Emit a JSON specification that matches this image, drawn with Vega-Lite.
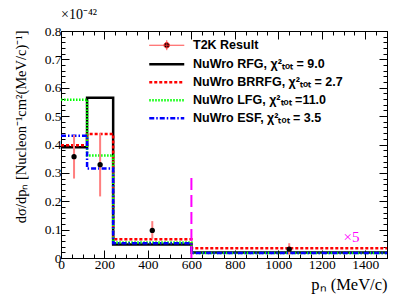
{
  "$schema": "https://vega.github.io/schema/vega-lite/v6.json",
  "width": 326,
  "height": 227,
  "autosize": "none",
  "padding": {"left": 61, "top": 31, "right": 20, "bottom": 47},
  "background": "white",
  "title": {"text": "×10⁻⁴²", "anchor": "start", "frame": "group", "font": "Liberation Serif", "fontSize": 14, "fontWeight": "normal", "offset": 2, "color": "black"},
  "config": {
    "view": {"stroke": "black", "strokeWidth": 1},
    "axis": {"grid": false, "domainColor": "black", "domainWidth": 1, "tickColor": "black", "tickWidth": 1, "labelColor": "black", "labelFont": "Liberation Serif", "labelFontSize": 13.5, "titleColor": "black", "titleFont": "Liberation Serif", "titleFontWeight": "normal", "labelFlush": false, "labelOverlap": false}
  },
  "datasets": {
    "hist": [
      {"model": "NuWro RFG", "pN": 0, "xsec": 0.39},
      {"model": "NuWro RFG", "pN": 120, "xsec": 0.565},
      {"model": "NuWro RFG", "pN": 240, "xsec": 0.048},
      {"model": "NuWro RFG", "pN": 600, "xsec": 0.019},
      {"model": "NuWro RFG", "pN": 1500, "xsec": 0.019},
      {"model": "NuWro BRRFG", "pN": 0, "xsec": 0.397},
      {"model": "NuWro BRRFG", "pN": 120, "xsec": 0.437},
      {"model": "NuWro BRRFG", "pN": 240, "xsec": 0.066},
      {"model": "NuWro BRRFG", "pN": 600, "xsec": 0.034},
      {"model": "NuWro BRRFG", "pN": 1500, "xsec": 0.034},
      {"model": "NuWro LFG", "pN": 0, "xsec": 0.558},
      {"model": "NuWro LFG", "pN": 120, "xsec": 0.361},
      {"model": "NuWro LFG", "pN": 240, "xsec": 0.055},
      {"model": "NuWro LFG", "pN": 600, "xsec": 0.018},
      {"model": "NuWro LFG", "pN": 1500, "xsec": 0.018},
      {"model": "NuWro ESF", "pN": 0, "xsec": 0.431},
      {"model": "NuWro ESF", "pN": 120, "xsec": 0.315},
      {"model": "NuWro ESF", "pN": 240, "xsec": 0.052},
      {"model": "NuWro ESF", "pN": 600, "xsec": 0.018},
      {"model": "NuWro ESF", "pN": 1500, "xsec": 0.018}
    ],
    "t2k": [
      {"pN": 60, "xsec": 0.357, "lo": 0.28, "hi": 0.434},
      {"pN": 180, "xsec": 0.329, "lo": 0.217, "hi": 0.44},
      {"pN": 420, "xsec": 0.097, "lo": 0.068, "hi": 0.13},
      {"pN": 1050, "xsec": 0.031, "lo": 0.012, "hi": 0.052}
    ]
  },
  "layer": [
    {
      "data": {"name": "hist"},
      "mark": {"type": "line", "interpolate": "step-after", "strokeWidth": 2.5},
      "encoding": {
        "x": {"field": "pN", "type": "quantitative", "scale": {"domain": [0, 1500], "nice": false, "zero": true},
          "axis": {"orient": "bottom", "values": [0,50,100,150,200,250,300,350,400,450,500,550,600,650,700,750,800,850,900,950,1000,1050,1100,1150,1200,1250,1300,1350,1400,1450,1500],
            "format": "d",
            "tickSize": {"condition": {"test": "datum.value % 200 === 0", "value": -8}, "value": -4},
            "labelExpr": "datum.value % 200 === 0 ? datum.label : ''",
            "labelPadding": 7,
            "title": "pₙ (MeV/c)", "titleFontSize": 16.5, "titleAnchor": "end", "titleAlign": "right", "titlePadding": 2}},
        "y": {"field": "xsec", "type": "quantitative", "scale": {"domain": [0, 0.8], "nice": false},
          "axis": {"orient": "left", "values": [0,0.02,0.04,0.06,0.08,0.1,0.12,0.14,0.16,0.18,0.2,0.22,0.24,0.26,0.28,0.3,0.32,0.34,0.36,0.38,0.4,0.42,0.44,0.46,0.48,0.5,0.52,0.54,0.56,0.58,0.6,0.62,0.64,0.66,0.68,0.7,0.72,0.74,0.76,0.78,0.8],
            "tickSize": {"condition": {"test": "abs(datum.value*10 - round(datum.value*10)) < 1e-6", "value": -8}, "value": -4},
            "labelExpr": "abs(datum.value*10 - round(datum.value*10)) < 1e-6 ? (datum.value == 0 ? '0' : format(datum.value, '.1f')) : ''",
            "labelPadding": 8,
            "title": "dσ/dpₙ [Nucleon⁻¹cm²(MeV/c)⁻¹]", "titleFontSize": 14.5, "titleAnchor": "end", "titleAngle": 270, "titleAlign": "right", "titleBaseline": "middle", "titleX": -40, "titleY": -1}},
        "color": {"field": "model", "type": "nominal",
          "scale": {"domain": ["T2K Result", "NuWro RFG", "NuWro BRRFG", "NuWro LFG", "NuWro ESF"], "range": ["#ff3030", "#000000", "#ff0000", "#00ff00", "#0000ff"]},
          "legend": {"title": null, "orient": "none", "legendX": 99.5, "legendY": 8, "padding": 0, "symbolSize": 196, "symbolStrokeWidth": 2.5, "labelFont": "Liberation Sans", "labelFontWeight": "bold", "labelFontSize": 12.5, "labelColor": "black", "labelOffset": 20, "rowPadding": 5, "labelLimit": 400,
            "labelExpr": "datum.label == 'NuWro RFG' ? 'NuWro RFG, χ²ₜₒₜ = 9.0' : datum.label == 'NuWro BRRFG' ? 'NuWro BRRFG, χ²ₜₒₜ = 2.7' : datum.label == 'NuWro LFG' ? 'NuWro LFG, χ²ₜₒₜ =11.0' : datum.label == 'NuWro ESF' ? 'NuWro ESF, χ²ₜₒₜ = 3.5' : datum.label",
            "encode": {"symbols": {"update": {
              "shape": {"signal": "datum.value === 'T2K Result' ? 'M-2.5,0H2.5M0,-0.7V0.7M0.4,0A0.4,0.4 0 1,1 -0.4,0A0.4,0.4 0 1,1 0.4,0Z' : 'M-2.5,0H2.5'"},
              "fill": {"signal": "datum.value === 'T2K Result' ? 'black' : 'transparent'"},
              "strokeWidth": {"signal": "datum.value === 'T2K Result' ? 1 : 2.5"}}}}}},
        "strokeDash": {"field": "model", "type": "nominal",
          "scale": {"domain": ["T2K Result", "NuWro RFG", "NuWro BRRFG", "NuWro LFG", "NuWro ESF"], "range": [[1, 0], [1, 0], [3, 2], [1.5, 1.5], [5, 2, 1.5, 2]]},
          "legend": null}
      }
    },
    {
      "data": {"name": "t2k"},
      "mark": {"type": "rule", "color": "#ff7f7f", "strokeWidth": 2},
      "encoding": {
        "x": {"field": "pN", "type": "quantitative",
          "axis": {"orient": "top", "values": [0,50,100,150,200,250,300,350,400,450,500,550,600,650,700,750,800,850,900,950,1000,1050,1100,1150,1200,1250,1300,1350,1400,1450,1500],
            "tickSize": {"condition": {"test": "datum.value % 200 === 0", "value": -8}, "value": -4},
            "labels": false, "title": null}},
        "y": {"field": "lo", "type": "quantitative",
          "axis": {"orient": "right", "values": [0,0.02,0.04,0.06,0.08,0.1,0.12,0.14,0.16,0.18,0.2,0.22,0.24,0.26,0.28,0.3,0.32,0.34,0.36,0.38,0.4,0.42,0.44,0.46,0.48,0.5,0.52,0.54,0.56,0.58,0.6,0.62,0.64,0.66,0.68,0.7,0.72,0.74,0.76,0.78,0.8],
            "tickSize": {"condition": {"test": "abs(datum.value*10 - round(datum.value*10)) < 1e-6", "value": -8}, "value": -4},
            "labels": false, "title": null}},
        "y2": {"field": "hi"}
      }
    },
    {
      "data": {"name": "t2k"},
      "mark": {"type": "circle", "color": "black", "size": 28, "opacity": 1},
      "encoding": {
        "x": {"field": "pN", "type": "quantitative", "axis": null},
        "y": {"field": "xsec", "type": "quantitative", "axis": null}
      }
    },
    {
      "data": {"values": [{}]},
      "mark": {"type": "rule", "color": "#ff00ff", "strokeWidth": 2, "strokeDash": [12, 5]},
      "encoding": {
        "x": {"datum": 600, "type": "quantitative", "axis": null},
        "y": {"datum": 0, "type": "quantitative", "axis": null},
        "y2": {"datum": 0.3}
      }
    },
    {
      "data": {"values": [{}]},
      "mark": {"type": "text", "text": "×5", "color": "#ff00ff", "font": "Liberation Serif", "fontSize": 15},
      "encoding": {
        "x": {"datum": 1337, "type": "quantitative", "axis": null},
        "y": {"datum": 0.075, "type": "quantitative", "axis": null}
      }
    }
  ],
  "resolve": {"axis": {"x": "independent", "y": "independent"}}
}
